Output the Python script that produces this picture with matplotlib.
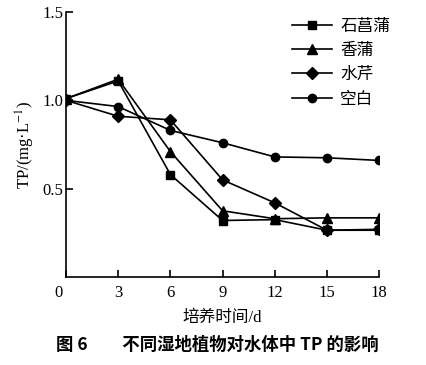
import matplotlib
matplotlib.use('Agg')
import matplotlib.pyplot as plt
import matplotlib.transforms as mtransforms

plt.rcParams['font.family'] = ['Liberation Serif', 'Noto Sans CJK SC']
plt.rcParams['mathtext.fontset'] = 'stix'

# data
days = [0, 3, 6, 9, 12, 15, 18]
shichangpu = [1.01, 1.11, 0.58, 0.32, 0.325, 0.265, 0.265]
xiangpu = [1.01, 1.12, 0.71, 0.375, 0.33, 0.335, 0.335]
shuiqin = [1.00, 0.91, 0.89, 0.55, 0.42, 0.265, 0.27]
kongbai = [1.00, 0.965, 0.83, 0.76, 0.68, 0.675, 0.66]
series_names = ['石菖蒲', '香蒲', '水芹', '空白']
yticks = [0.5, 1.0, 1.5]

fig = plt.figure(figsize=(4.26, 3.65), dpi=100)
ax = fig.add_axes([0.155, 0.241, 0.735, 0.726])

styles = [('s', 6), ('^', 7.5), ('D', 6.5), ('o', 6)]
for vals, name, (m, ms) in zip([shichangpu, xiangpu, shuiqin, kongbai], series_names, styles):
    ax.plot(days, vals, color='black', lw=1.2, marker=m, markersize=ms, label=name)

ax.set_xlim(0, 18)
ax.set_ylim(0, 1.5)
ax.set_xticks(days)
ax.set_yticks(yticks)
ax.set_yticklabels(['0.5', '1.0', '1.5'])
ax.spines['top'].set_visible(False)
ax.spines['right'].set_visible(False)
ax.spines['left'].set_linewidth(1.2)
ax.spines['bottom'].set_linewidth(1.2)
ax.tick_params(direction='in', length=5, width=1.2, labelsize=12, pad=6)
ax.tick_params(axis='y', pad=2)

# shift the origin label a little left
lbl = ax.get_xticklabels()[0]
lbl.set_transform(lbl.get_transform() + mtransforms.ScaledTranslation(-0.08, 0, fig.dpi_scale_trans))

ax.set_xlabel('培养时间/d', fontsize=12, labelpad=6)
ax.set_ylabel('TP/(mg·L$^{-1}$)', fontsize=12, labelpad=4)

ax.legend(loc='upper left', bbox_to_anchor=(0.65, 0.99), bbox_transform=fig.transFigure,
          frameon=False, fontsize=12, handlelength=2.4, labelspacing=0.5, handletextpad=0.5)

fig.text(0.51, 0.055, '图 6\u2003\u2003不同湿地植物对水体中 TP 的影响', ha='center', va='center',
         fontsize=12.5, fontweight='bold', family=['Noto Sans CJK SC', 'DejaVu Sans'])

fig.savefig('out.png', dpi=100)
